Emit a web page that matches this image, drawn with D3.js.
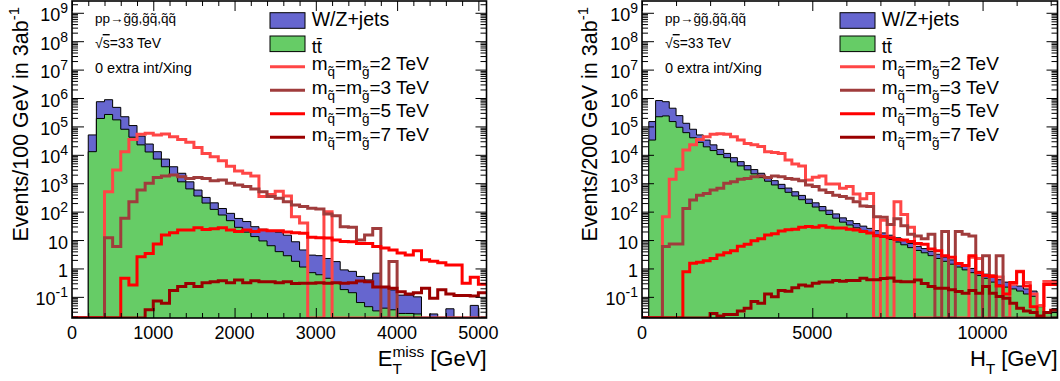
<!DOCTYPE html>
<html><head><meta charset="utf-8">
<script src="https://cdn.jsdelivr.net/npm/d3@7"></script>
<style>
body{margin:0;background:#fff}
svg{display:block}
text{font-family:"Liberation Sans",Arial,Helvetica,sans-serif;fill:#000}
</style>
</head><body>
<svg id="c" width="1060" height="381"></svg>
<script>
// ---------------- data ----------------
// Left panel: E_T^miss, 100 GeV bins from 0 to 5100 GeV
const etBinWidth = 100;
const etTTbar = [0,0,12900,190500,263000,170000,79400,41700,22400,12600,7080,3800,2000,1120,631,355,200,120,76,48,28,19,13.2,9.3,6.3,3.9,2.8,1.78,1.12,0.71,0.60,0.45,0.32,0.18,0.14,0.063,0.045,0.032,0.040,0.035,0.026,0.026,0.025,0,0,0,0,0,0,0,0];
const etWZjets = [0,0,37200,550000,608000,298000,139600,65300,23300,11400,5820,3280,1800,1120,489,220,116,84,53,39,29.5,25.7,16.3,14.7,14.6,15.1,12,6.9,3.35,2.24,2.22,1.79,1.42,0.71,0.65,0.46,0.35,0.65,0.19,0.14,0.089,0.089,0.075,0,0.025,0,0.038,0,0,0.05,0];
const etSig2 = [0,0,0,0,500,2900,12900,34700,52500,57500,50100,53700,43600,34700,27500,18200,11200,8500,6170,3980,2690,2240,1780,339,398,525,355,66,40,0,0,100,0,0,0,0,0,0,0,0,0,0,0,0,0,0,0,0,0,0,0];
const etSig3 = [0,0,0,0,12,5.9,58,224,575,1000,1580,1780,1950,1700,1480,1580,1480,1230,1290,1000,870,760,630,500,339,295,224,170,151,132,123,83,71,29.5,28,10,15,25.7,0,1.74,0,0,0,0,0,0,0,0,0,0,0];
const etSig5 = [0,0,0,0,0,0,0.45,0.26,2.57,3.39,7.2,15.1,18.2,22.4,22.4,26.9,23.4,25.1,26.9,22.4,20,22.4,20,22.4,21.4,21.4,19,18.2,17.4,12.6,12,11.7,10,8.9,8.7,7.6,7.6,5.9,5.2,4.5,3.5,2.95,4.2,2.04,1.78,1.58,1.32,1.32,0.30,0.49,0.28];
const etSig7 = [0,0,0,0,0,0,0,0,0,0.035,0.072,0.059,0.166,0.23,0.295,0.23,0.316,0.34,0.37,0.316,0.39,0.316,0.37,0.34,0.34,0.316,0.34,0.295,0.30,0.30,0.316,0.30,0.316,0.30,0.316,0.36,0.34,0.22,0.22,0.20,0.15,0.126,0.14,0.20,0.089,0.178,0.126,0.112,0.112,0.107,0.14];

// Right panel: H_T, 200 GeV bins from 0 to 12200 GeV
const htBinWidth = 200;
const htTTbar = [0,33100,219000,234000,148000,93300,60300,39800,27500,19100,14100,10200,7940,5620,4070,2950,2140,1580,1175,871,646,479,355,263,195,145,107,79.4,58.9,42.7,33.9,26.9,21.9,18.2,15.1,12.6,10.5,8.5,6.8,5.4,4.3,3.55,2.82,2.24,1.78,1.41,1.12,0.89,0.71,0.56,0.45,0.33,0.26,0.22,0.19,0.16,0.126,0.105,0.045,0.03,0.028];
const htWZjets = [0,114900,594000,507000,289000,146700,68700,39600,22600,14000,8300,5300,3260,2320,1680,1220,880,660,485,359,266,197,146,109,80,59,44,32.6,24.3,17.6,14,11.1,9,7.5,6.3,5.2,4.3,3.5,2.7,2.2,1.7,1.45,1.18,0.92,0.72,0.59,0.46,0.37,0.29,0.23,0.18,0.17,0.14,0.11,0.09,0.08,0.064,0.055,0,0,0];
const htSig2 = [0,0,0,66,1380,3090,14800,22400,34700,43600,52500,55000,52500,43600,33100,25100,22400,19500,12900,12000,11200,6600,4790,4070,1290,1620,1780,933,933,660,760,417,282,437,0,50,0,224,79,28,0,0,0,0,0,0,0,0,2.5,2.24,0,0.56,0.5,0,0.28,0.79,0.32,0.126,0.05,0.35,0.35];
const htSig3 = [0,0,0,5.9,7.2,7.2,129,257,380,437,575,660,1000,1120,1380,1480,1700,1780,1580,1780,1700,1480,1380,1230,870,760,575,468,380,339,295,224,158,151,66,63,35,56,32,16,14,11,16,0,20,0,20,16,14,0,2.8,0,2.8,0,0,0,0,0,0,0,0];
const htSig5 = [0,0,0,0,0,0,0.76,1.51,1.66,1.86,2.24,2.95,3.55,4.17,6.0,7.1,9.5,11.2,15.1,16.6,20.9,22.9,24,28.2,30.2,28.2,31.6,28.2,26.3,26.3,24,22.4,20,17.8,14.1,13.2,12,10.5,10,8.9,7.6,7.1,4.8,4.2,2.8,2.5,1.5,1.26,2.8,0.71,0.56,0.52,0.24,0.126,0.32,0.76,0.24,0.045,0,0.27,0.27];
const htSig7 = [0,0,0,0,0,0,0,0,0,0,0.026,0.021,0.024,0.024,0.032,0.04,0.068,0.059,0.126,0.10,0.166,0.158,0.21,0.26,0.24,0.30,0.33,0.33,0.38,0.355,0.38,0.38,0.45,0.40,0.40,0.44,0.46,0.355,0.34,0.34,0.39,0.295,0.23,0.20,0.20,0.178,0.155,0.135,0.166,0.135,0.23,0.135,0.102,0.089,0.06,0.04,0.032,0.028,0.021,0.028,0.034];

// axis / labels
const yMin = 0.018, yMax = 2.6e9;
const yTickLabels = [["10","-1",0.1],["1","",1],["10","",10],["10","2",1e2],["10","3",1e3],["10","4",1e4],["10","5",1e5],["10","6",1e6],["10","7",1e7],["10","8",1e8],["10","9",1e9]];
const etXTicks = [0,1000,2000,3000,4000,5000];
const htXTicks = [0,5000,10000];
const signalMasses = ["2","3","5","7"];
const signalColors = ["#ff4646","#a03c3c","#ff0000","#9a0000"];
const colWZ = "#6666cf", colTT = "#66cc66";

// ---------------- drawing ----------------
const svg = d3.select("#c");
const Y0 = 318, Y1 = 1;
const y = d3.scaleLog().domain([yMin, yMax]).range([Y0, Y1]);
const yMajor = yTickLabels.map(d => d[2]);
const yMinor = [];
for (let k = -2; k <= 9; k++) for (let m = 2; m <= 9; m++) { const v = m * Math.pow(10, k); if (v >= yMin && v <= yMax) yMinor.push(v); }

function panel(o) {
  const x = o.x, [L, R] = x.range(), nb = o.tt.length;
  svg.append("clipPath").attr("id", o.id).append("rect")
    .attr("x", L).attr("y", Y1).attr("width", R - L).attr("height", Y0 - Y1);
  const plot = svg.append("g").attr("clip-path", `url(#${o.id})`);
  const edges = d3.range(nb + 1).map(i => i * o.bw);
  const pts = arr => edges.map((e, i) => [e, i < nb ? arr[i] : arr[nb - 1]]);
  const yv = v => v > 0 ? y(Math.max(v, yMin * 0.5)) : Y0;
  const v0 = v => v > 0 ? y(v) : Y0 + 3;
  const area = d3.area().curve(d3.curveStepAfter).x(d => x(d[0])).y0(Y0 + 3).y1(d => v0(d[1]));
  const line = d3.line().curve(d3.curveStepAfter).x(d => x(d[0])).y(d => yv(d[1]));
  const total = o.tt.map((v, i) => v + o.wz[i]);
  plot.append("path").attr("d", area(pts(total))).attr("fill", colWZ).attr("stroke", "#000").attr("stroke-width", 1);
  plot.append("path").attr("d", area(pts(o.tt))).attr("fill", colTT).attr("stroke", "#000").attr("stroke-width", 1);
  o.sig.forEach((s, k) => {
    plot.append("path").attr("d", line(pts(s))).attr("fill", "none")
      .attr("stroke", signalColors[k]).attr("stroke-width", 3).attr("stroke-linejoin", "miter");
  });

  // axes ticks (inward, all four sides)
  const ax = svg.append("g");
  const add = (gen, tx, ty) => { const g = ax.append("g").attr("transform", `translate(${tx},${ty})`).call(gen); g.select(".domain").remove(); g.selectAll("line").attr("stroke", "#000").attr("stroke-width", 1); };
  add(d3.axisLeft(y).tickValues(yMajor).tickSize(-12).tickFormat(""), L, 0);
  add(d3.axisLeft(y).tickValues(yMinor).tickSize(-6).tickFormat(""), L, 0);
  add(d3.axisRight(y).tickValues(yMajor).tickSize(-11).tickFormat(""), R, 0);
  add(d3.axisRight(y).tickValues(yMinor).tickSize(-6).tickFormat(""), R, 0);
  add(d3.axisBottom(x).tickValues(o.xMajor).tickSize(-10).tickFormat(""), 0, Y0);
  add(d3.axisBottom(x).tickValues(o.xMinor).tickSize(-5).tickFormat(""), 0, Y0);
  add(d3.axisTop(x).tickValues(o.xMajor).tickSize(-10).tickFormat(""), 0, Y1);
  add(d3.axisTop(x).tickValues(o.xMinor).tickSize(-5).tickFormat(""), 0, Y1);
  svg.append("rect").attr("x", L).attr("y", Y1).attr("width", R - L).attr("height", Y0 - Y1)
    .attr("fill", "none").attr("stroke", "#000").attr("stroke-width", 1.6);

  // y tick labels
  yTickLabels.forEach(([b, e, v]) => {
    const t = svg.append("text").attr("x", L - 4).attr("y", y(v) + 8.5).attr("text-anchor", "end").attr("font-size", 18).text(b);
    if (e) t.append("tspan").attr("font-size", 14).attr("dy", -8).text(e);
  });
  // x tick labels
  o.xMajor.forEach(v => {
    svg.append("text").attr("x", x(v)).attr("y", 338.5).attr("text-anchor", "middle").attr("font-size", 18).text(v);
  });
  // y title
  const yt = svg.append("text").attr("transform", `translate(${o.yTitleX},7) rotate(-90)`)
    .attr("text-anchor", "end").attr("font-size", 21.5).text(o.yTitle);
  yt.append("tspan").attr("font-size", 15).attr("dy", -9).text("-1");

  // x title
  const unit = svg.append("text").attr("x", R).attr("y", 366).attr("text-anchor", "end").attr("font-size", 22).text("[GeV]");
  let xs = R - unit.node().getComputedTextLength() - 6;
  let w = 0;
  if (o.sup) {
    const sp = svg.append("text").attr("x", xs).attr("y", 357).attr("text-anchor", "end").attr("font-size", 15.5).text(o.sup);
    w = sp.node().getComputedTextLength();
  }
  const sb = svg.append("text").attr("x", xs - w).attr("y", 374).attr("text-anchor", "start").attr("font-size", 15.5).text("T");
  if (!o.sup) { w = sb.node().getComputedTextLength(); sb.attr("x", xs - w); }
  svg.append("text").attr("x", xs - w).attr("y", 366).attr("text-anchor", "end").attr("font-size", 22).text(o.base);

  // annotations
  const ax0 = o.annX;
  svg.append("text").attr("x", ax0).attr("y", 23).attr("font-size", 13.5).text("pp\u2192g\u0303g\u0303,g\u0303q\u0303,q\u0303q\u0303");
  const s2 = svg.append("text").attr("x", ax0).attr("y", 48).attr("font-size", 14).text("\u221A");
  s2.append("tspan").attr("style", "text-decoration:overline").text("s");
  s2.append("tspan").text("=33 TeV");
  svg.append("text").attr("x", ax0).attr("y", 72.5).attr("font-size", 14.5).text("0 extra int/Xing");

  // legend
  const lx = o.legX;
  svg.append("rect").attr("x", lx).attr("y", 12.7).attr("width", 35).attr("height", 15.6).attr("fill", colWZ).attr("stroke", "#000").attr("stroke-width", 1);
  svg.append("rect").attr("x", lx).attr("y", 36).attr("width", 35).attr("height", 15.6).attr("fill", colTT).attr("stroke", "#000").attr("stroke-width", 1);
  svg.append("text").attr("x", lx + 41.7).attr("y", 26).attr("font-size", 19.5).text("W/Z+jets");
  svg.append("text").attr("x", lx + 41.7).attr("y", 52.5).attr("font-size", 18.5).text("tt\u0304");
  signalMasses.forEach((m, k) => {
    const ly = 66.7 + k * 23.5;
    svg.append("line").attr("x1", lx).attr("x2", lx + 35).attr("y1", ly).attr("y2", ly).attr("stroke", signalColors[k]).attr("stroke-width", 3);
    const t = svg.append("text").attr("x", lx + 41.7).attr("y", ly + 3.6).attr("font-size", 19).text("m");
    t.append("tspan").attr("font-size", 13.5).attr("dy", 6).text("q\u0303");
    t.append("tspan").attr("dy", -6).text("=m");
    t.append("tspan").attr("font-size", 13.5).attr("dy", 6).text("g\u0303");
    t.append("tspan").attr("dy", -6).text(`=${m} TeV`);
  });
}

const xL = d3.scaleLinear().domain([0, 5100]).range([72, 486.5]);
const xR = d3.scaleLinear().domain([0, 12200]).range([642, 1057.5]);

panel({ id: "clipL", x: xL, bw: etBinWidth, tt: etTTbar, wz: etWZjets, sig: [etSig2, etSig3, etSig5, etSig7],
  xMajor: etXTicks, xMinor: d3.range(200, 5100, 200).filter(v => v % 1000 !== 0),
  yTitle: "Events/100 GeV in 3ab", yTitleX: 28, base: "E", sup: "miss", annX: 95, legX: 270 });
panel({ id: "clipR", x: xR, bw: htBinWidth, tt: htTTbar, wz: htWZjets, sig: [htSig2, htSig3, htSig5, htSig7],
  xMajor: htXTicks, xMinor: d3.range(1000, 12200, 1000).filter(v => v % 5000 !== 0),
  yTitle: "Events/200 GeV in 3ab", yTitleX: 597, base: "H", sup: "", annX: 665, legX: 840 });
</script>
</body></html>
